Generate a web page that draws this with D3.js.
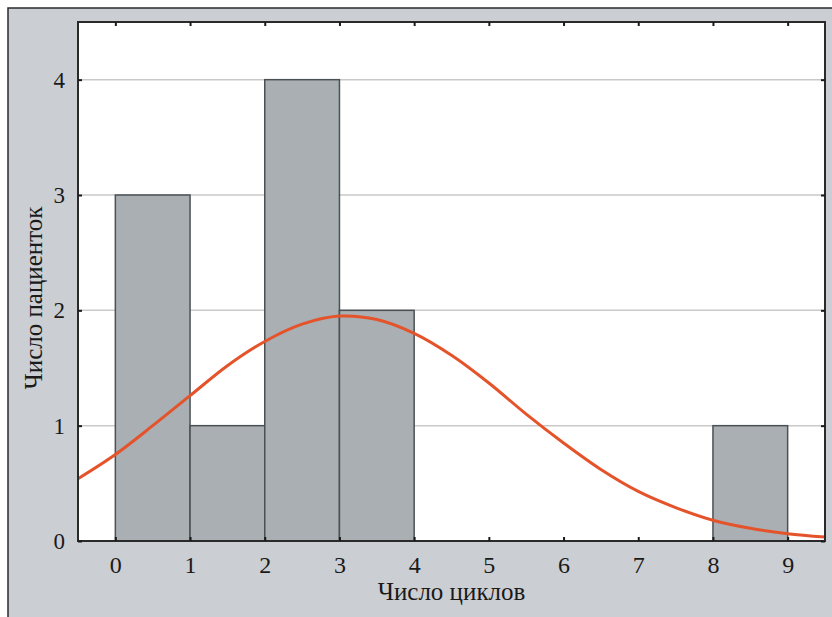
<!DOCTYPE html>
<html>
<head>
<meta charset="utf-8">
<script src="https://d3js.org/d3.v7.min.js"></script>
<style>
  body { margin: 0; background: #ffffff; }
  text { font-family: "Liberation Serif", "Times New Roman", serif; fill: #1a1a1a; }
</style>
</head>
<body>
<div id="chart"></div>
<script>
// histogram bins (число циклов) and counts (число пациенток)
var binStarts = [0, 1, 2, 3, 8];
var binCounts = [3, 1, 4, 2, 1];

// fitted normal curve
var curveX = [-0.5, 0, 0.5, 1, 1.5, 2, 2.5, 3, 3.5, 4, 4.5, 5, 5.5, 6, 6.5, 7, 7.5, 8, 8.5, 9, 9.5];
var curveY = [0.54, 0.75, 1.0, 1.26, 1.52, 1.73, 1.88, 1.95, 1.92, 1.80, 1.61, 1.37, 1.10, 0.85, 0.62, 0.43, 0.29, 0.18, 0.11, 0.063, 0.034];

var xTicks = [0, 1, 2, 3, 4, 5, 6, 7, 8, 9];
var yTicks = [0, 1, 2, 3, 4];

function init(){
    var w = 832;
    var h = 617;
    var left = 78, right = 825, top = 22, bottom = 541;

    var svg = d3.select("#chart")
                .append("svg")
                .attr("width", w)
                .attr("height", h);

    // outer grey panel
    svg.append("rect")
        .attr("x", 8).attr("y", 8)
        .attr("width", w - 8).attr("height", h - 8)
        .attr("fill", "#cbced2");
    svg.append("path")
        .attr("d", "M8," + h + "V8H" + w)
        .attr("fill", "none")
        .attr("stroke", "#2b2b2b")
        .attr("stroke-width", 1.5);

    var xScale = d3.scaleLinear().domain([-0.5, 9.5]).range([left, right]);
    var yScale = d3.scaleLinear().domain([0, 4.5]).range([bottom, top]);

    // plot area
    svg.append("rect")
        .attr("x", left).attr("y", top)
        .attr("width", right - left).attr("height", bottom - top)
        .attr("fill", "#ffffff");

    // gridlines
    svg.selectAll(".grid")
        .data(yTicks.filter(function(d){ return d > 0; }))
        .enter().append("line")
        .attr("x1", left).attr("x2", right)
        .attr("y1", function(d){ return yScale(d); })
        .attr("y2", function(d){ return yScale(d); })
        .attr("stroke", "#c9c9c9")
        .attr("stroke-width", 1.5);

    // bars
    svg.selectAll(".bar")
        .data(binStarts)
        .enter().append("rect")
        .attr("x", function(d){ return xScale(d); })
        .attr("y", function(d, i){ return yScale(binCounts[i]); })
        .attr("width", function(d){ return xScale(d + 1) - xScale(d); })
        .attr("height", function(d, i){ return yScale(0) - yScale(binCounts[i]); })
        .attr("fill", "#a9afb3")
        .attr("stroke", "#4b5054")
        .attr("stroke-width", 1.5);

    // normal curve
    var line = d3.line()
        .x(function(d, i){ return xScale(curveX[i]); })
        .y(function(d){ return yScale(d); })
        .curve(d3.curveCatmullRom);
    svg.append("path")
        .datum(curveY)
        .attr("d", line)
        .attr("fill", "none")
        .attr("stroke", "#e5532b")
        .attr("stroke-width", 3);

    // frame
    svg.append("rect")
        .attr("x", left).attr("y", top)
        .attr("width", right - left).attr("height", bottom - top)
        .attr("fill", "none")
        .attr("stroke", "#2a2a2a")
        .attr("stroke-width", 2);

    // axes (inner ticks)
    var xAxis = d3.axisBottom(xScale).tickValues(xTicks).tickSize(-4).tickFormat(d3.format("d"));
    var gx = svg.append("g")
        .attr("transform", "translate(0," + bottom + ")")
        .call(xAxis);
    var xTop = d3.axisTop(xScale).tickValues(xTicks).tickSize(-4).tickFormat("");
    var gxt = svg.append("g")
        .attr("transform", "translate(0," + top + ")")
        .call(xTop);
    var yAxis = d3.axisLeft(yScale).tickValues(yTicks).tickSize(-4).tickPadding(13).tickFormat(d3.format("d"));
    var gy = svg.append("g")
        .attr("transform", "translate(" + left + ",0)")
        .call(yAxis);
    var yRight = d3.axisRight(yScale).tickValues(yTicks).tickSize(-4).tickFormat("");
    var gyr = svg.append("g")
        .attr("transform", "translate(" + right + ",0)")
        .call(yRight);

    [gx, gxt, gy, gyr].forEach(function(g){
        g.select(".domain").remove();
        g.selectAll(".tick line").attr("stroke", "#1a1a1a").attr("stroke-width", 2);
        g.selectAll(".tick text")
            .attr("fill", "#1a1a1a")
            .style("font-family", "'Liberation Serif', 'Times New Roman', serif");
    });
    gx.selectAll(".tick text").attr("font-size", 24).attr("dy", null).attr("y", 32);
    gy.selectAll(".tick text").attr("font-size", 23);

    // axis titles
    svg.append("text")
        .attr("x", (left + right) / 2)
        .attr("y", 600)
        .attr("text-anchor", "middle")
        .attr("font-size", 25)
        .text("Число циклов");

    svg.append("text")
        .attr("transform", "translate(42,298) rotate(-90)")
        .attr("text-anchor", "middle")
        .attr("font-size", 25)
        .text("Число пациенток");
}
window.onload = init;
</script>
</body>
</html>
